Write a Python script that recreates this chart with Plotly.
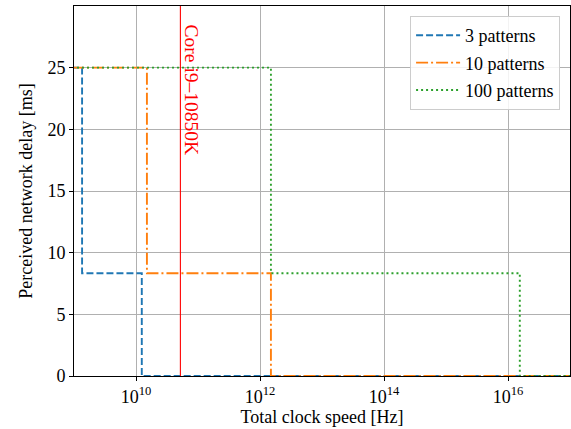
import numpy as np
import plotly.graph_objects as go

# Data
series_names = ["3 patterns", "10 patterns", "100 patterns"]
x_start = 1e8
x_end = 1e18
step1 = [1.35e9, 1.5e10, 1.5e12]      # Hz where delay drops 25 -> 8.33 ms
step2 = [1.24e10, 1.5e12, 1.55e16]    # Hz where delay drops 8.33 -> 0 ms
delay_levels = [25.0, 1000 / 120, 0.0]
core_i9_hz = 5.2e10
core_label = "Core i9–10850K"
x_tickvals = [1e10, 1e12, 1e14, 1e16]
x_ticktext = ["10<sup>10</sup>", "10<sup>12</sup>", "10<sup>14</sup>", "10<sup>16</sup>"]
y_tickvals = [0, 5, 10, 15, 20, 25]

colors = ["#1f77b4", "#ff7f0e", "#2ca02c"]
dashes = ["7px,3px", "12px,3px,2px,3px", "2px,3px"]

FONT = "Liberation Serif"
fig = go.Figure()

for i, name in enumerate(series_names):
    xs = [x_start, step1[i], step2[i], x_end]
    ys = [delay_levels[0], delay_levels[1], delay_levels[2], delay_levels[2]]
    fig.add_trace(go.Scatter(
        x=xs, y=ys, mode="lines", name=name, line_shape="hv", legendgroup=f"g{i}",
        line=dict(color=colors[i], width=1.9, dash=dashes[i]),
    ))

fig.add_trace(go.Scatter(
    x=[core_i9_hz, core_i9_hz], y=[0, 30], mode="lines", showlegend=False,
    line=dict(color="red", width=1.1), hoverinfo="skip",
))

fig.add_annotation(
    x=np.log10(core_i9_hz), y=30, xref="x", yref="y", text=core_label,
    textangle=90, showarrow=False, xanchor="left", yanchor="top",
    xshift=-1, yshift=-17, font=dict(color="red", size=19.5, family=FONT),
)

fig.update_layout(
    width=571, height=429,
    margin=dict(l=74, r=1, t=6, b=53),
    paper_bgcolor="white", plot_bgcolor="white",
    font=dict(family=FONT, size=17.5, color="black"),
    showlegend=True,
    legend=dict(
        x=0.98, y=0.973, xanchor="right", yanchor="top",
        bgcolor="rgba(255,255,255,0.85)", bordercolor="#cccccc", borderwidth=1,
        font=dict(size=18, family=FONT), tracegroupgap=1, itemwidth=44,
    ),
)
fig.update_xaxes(
    type="log", range=[9, 17],
    tickvals=x_tickvals, ticktext=x_ticktext,
    showgrid=True, gridcolor="#b0b0b0", gridwidth=1,
    showline=True, linecolor="black", linewidth=1, mirror=True,
    ticks="outside", ticklen=4, tickcolor="black", zeroline=False,
    tickfont=dict(size=18),
    title=dict(text="Total clock speed [Hz]", standoff=2, font=dict(size=18)),
)
fig.update_yaxes(
    range=[0, 30], tickvals=y_tickvals,
    showgrid=True, gridcolor="#b0b0b0", gridwidth=1,
    showline=True, linecolor="black", linewidth=1, mirror=True,
    ticks="outside", ticklen=4, tickcolor="black", zeroline=False,
    tickfont=dict(size=18),
    title=dict(text="Perceived network delay [ms]", standoff=10, font=dict(size=18)),
)

fig.write_html(
    "out.html",
    config={"displayModeBar": False},
    post_script="document.body.style.margin='0px';document.body.style.padding='0px';",
)
